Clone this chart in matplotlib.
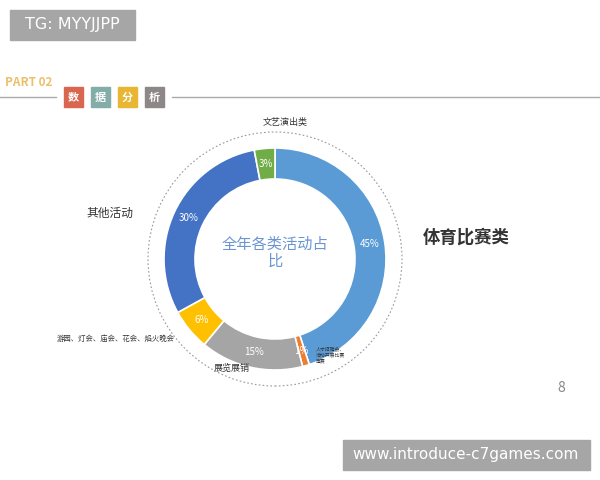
import matplotlib.pyplot as plt
from matplotlib.patches import Circle, Rectangle

plt.rcParams['font.family'] = ['Noto Sans CJK SC', 'DejaVu Sans']

# data, clockwise from 12 o'clock
labels = ['体育比赛类', '人才招聘会', '展览展销', '游园、灯会、庙会、花会、焰火晚会', '其他活动', '文艺演出类']
shares = [45, 1, 15, 6, 30, 3]
colors = ['#5B9BD5', '#ED7D31', '#A5A5A5', '#FFC000', '#4472C4', '#70AD47']
header_chars = ['数', '据', '分', '析']
header_colors = ['#D9664E', '#83ADA8', '#E9B634', '#8E8787']

H = 480
fig = plt.figure(figsize=(6, 4.8), dpi=100)
ax = fig.add_axes([0, 0, 1, 1])

cx, cy, r = 275, H - 259, 111

wedges, texts, autotexts = ax.pie(
    shares, colors=colors, startangle=90, counterclock=False,
    center=(cx, cy), radius=r, frame=True,
    autopct=lambda p: f'{p:.0f}%', pctdistance=0.86,
    wedgeprops=dict(width=31, edgecolor='white', linewidth=1.2),
    textprops=dict(color='white', fontsize=7))
ax.set_xlim(0, 600)
ax.set_ylim(0, H)
ax.set_aspect('equal')
ax.axis('off')

# dotted outer ring
ax.add_patch(Circle((cx, cy), 127, fill=False, ls=(0, (1.5, 2)), lw=0.8, ec='#999999'))

ax.text(cx, cy + 6, '全年各类活动占\n比', ha='center', va='center',
        fontsize=11, color='#6A95D3', linespacing=1.0)

# category labels
ax.text(466, H - 238, '体育比赛类', ha='center', va='center', fontsize=12.5,
        fontweight='bold', color='#333333')
ax.text(110, H - 213, '其他活动', ha='center', va='center', fontsize=8.5, color='#333333')
ax.text(285, H - 122, '文艺演出类', ha='center', va='center', fontsize=6.5, color='#333333')
ax.text(232, H - 368, '展览展销', ha='center', va='center', fontsize=6.5, color='#333333')
ax.text(116, H - 339, '游园、灯会、庙会、花会、焰火晚会', ha='center', va='center',
        fontsize=5.3, color='#333333')
ax.text(316, H - 355, '人才招聘会、\n活动开展比赛\n等赛', ha='left', va='center',
        fontsize=3.5, color='#333333', linespacing=1.2)

# header
ax.text(5, H - 82, 'PART 02', ha='left', va='center', fontsize=8.5,
        fontweight='bold', color='#EBC06A')
ax.plot([0, 56], [H - 97, H - 97], color='#AAAAAA', lw=1)
ax.plot([172, 600], [H - 97, H - 97], color='#AAAAAA', lw=1)
for i, (ch, c) in enumerate(zip(header_chars, header_colors)):
    x0 = 64 + i * 27
    ax.add_patch(Rectangle((x0, H - 107), 19, 20, color=c))
    ax.text(x0 + 9.5, H - 97, ch, ha='center', va='center', fontsize=8,
            color='white', fontweight='bold')

ax.text(561, H - 388, '8', ha='center', va='center', fontsize=10, color='#888888')

# watermark boxes
ax.add_patch(Rectangle((10, H - 40), 125, 30, color='#A6A6A6'))
ax.text(72, H - 25, 'TG: MYYJJPP', ha='center', va='center', fontsize=11.5,
        color='white', family='DejaVu Sans')
ax.add_patch(Rectangle((343, H - 470), 247, 30, color='#A6A6A6'))
ax.text(466, H - 455, 'www.introduce-c7games.com', ha='center', va='center',
        fontsize=11, color='white', family='DejaVu Sans')

fig.savefig('out.png', dpi=100)
